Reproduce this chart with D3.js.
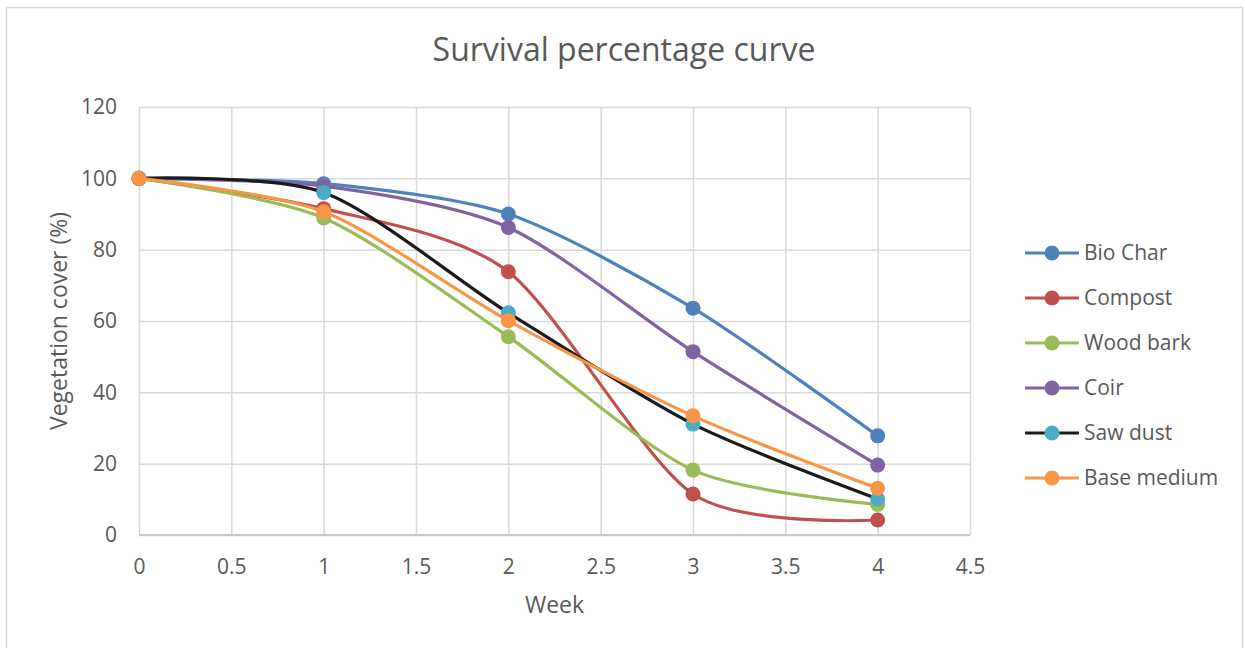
<!DOCTYPE html>
<html>
<head>
<meta charset="utf-8">
<script src="https://cdn.jsdelivr.net/npm/d3@7"></script>
<style>
  body { margin: 0; background: #fff; }
  svg { display: block; font-family: "Open Sans", sans-serif; }
</style>
</head>
<body>
<svg id="chart-svg"></svg>
<script>
// weeks and survival values
const weeks = [0, 1, 2, 3, 4];
const bioChar = [100, 98.5, 90.0, 63.6, 27.8];
const compost = [100, 91.5, 73.8, 11.5, 4.2];
const woodBark = [100, 88.9, 55.6, 18.2, 8.6];
const coir = [100, 97.8, 86.2, 51.4, 19.6];
const sawDust = [100, 96.0, 62.3, 31.1, 10.1];
const baseMedium = [100, 90.6, 60.1, 33.4, 13.1];

const seriesNames = ['Bio Char', 'Compost', 'Wood bark', 'Coir', 'Saw dust', 'Base medium'];
const seriesValues = [bioChar, compost, woodBark, coir, sawDust, baseMedium];
const lineColors = ['#4f81bd', '#c0504d', '#9bbb59', '#8064a2', '#1a1a1a', '#f79646'];
const markerColors = ['#4f81bd', '#c0504d', '#9bbb59', '#8064a2', '#4bacc6', '#f79646'];

const xTicks = [0, 0.5, 1, 1.5, 2, 2.5, 3, 3.5, 4, 4.5];
const yTicks = [0, 20, 40, 60, 80, 100, 120];

const width = 1245, height = 648;
const margin = {left: 139, right: 275, top: 107, bottom: 113};
const textColor = '#595959';
const gridColor = '#d9d9d9';

const svg = d3.select('#chart-svg')
    .attr('width', width)
    .attr('height', height);

// outer chart border
svg.append('rect')
    .attr('x', 6.5)
    .attr('y', 7.5)
    .attr('width', 1236)
    .attr('height', 660)
    .attr('fill', '#fff')
    .attr('stroke', gridColor)
    .attr('stroke-width', 1.5);

const x = d3.scaleLinear()
    .domain([0, 4.5])
    .range([margin.left, width - margin.right]);

const y = d3.scaleLinear()
    .domain([0, 120])
    .range([height - margin.bottom, margin.top]);

// gridlines
svg.append('g')
    .attr('id', 'grid-x')
    .attr('transform', 'translate(0,' + y(0) + ')')
    .call(d3.axisBottom(x).tickValues(xTicks).tickSize(-(y(0) - y(120))).tickFormat(''))
    .call(g => g.select('.domain').remove())
    .selectAll('line')
    .attr('stroke', gridColor)
    .attr('stroke-width', 1.5);

svg.append('g')
    .attr('id', 'grid-y')
    .attr('transform', 'translate(' + x(0) + ',0)')
    .call(d3.axisLeft(y).tickValues(yTicks).tickSize(-(x(4.5) - x(0))).tickFormat(''))
    .call(g => g.select('.domain').remove())
    .selectAll('line')
    .attr('stroke', gridColor)
    .attr('stroke-width', 1.5);

// axis line along the bottom
svg.append('line')
    .attr('x1', x(0))
    .attr('x2', x(4.5))
    .attr('y1', y(0))
    .attr('y2', y(0))
    .attr('stroke', '#bfbfbf')
    .attr('stroke-width', 1.5);

// tick labels
svg.append('g')
    .attr('id', 'axis-x')
    .attr('transform', 'translate(0,' + y(0) + ')')
    .call(d3.axisBottom(x).tickValues(xTicks).tickSize(0).tickPadding(24).tickFormat(d => String(d)))
    .call(g => g.select('.domain').remove())
    .selectAll('text')
    .attr('fill', textColor)
    .style('font-family', '"Open Sans", sans-serif')
    .style('font-size', '21px');

svg.append('g')
    .attr('id', 'axis-y')
    .attr('transform', 'translate(' + x(0) + ',0)')
    .call(d3.axisLeft(y).tickValues(yTicks).tickSize(0).tickPadding(22).tickFormat(d => String(d)))
    .call(g => g.select('.domain').remove())
    .selectAll('text')
    .attr('fill', textColor)
    .style('font-family', '"Open Sans", sans-serif')
    .style('font-size', '21px');

// title and axis titles
svg.append('text')
    .attr('x', 624)
    .attr('y', 61)
    .attr('text-anchor', 'middle')
    .attr('fill', textColor)
    .style('font-size', '32px')
    .text('Survival percentage curve');

svg.append('text')
    .attr('x', (x(0) + x(4.5)) / 2)
    .attr('y', 613)
    .attr('text-anchor', 'middle')
    .attr('fill', textColor)
    .style('font-size', '23px')
    .text('Week');

svg.append('text')
    .attr('transform', 'translate(67,' + (y(60)) + ') rotate(-90)')
    .attr('text-anchor', 'middle')
    .attr('fill', textColor)
    .style('font-size', '23px')
    .text('Vegetation cover (%)');

// smoothed lines, a bit tighter than plain catmull-rom to match the spreadsheet look
const line = d3.line()
    .x(d => x(d[0]))
    .y(d => y(d[1]))
    .curve(d3.curveCardinal.tension(0.2));

seriesValues.forEach((vals, i) => {
    const pts = weeks.map((w, j) => [w, vals[j]]);
    const g = svg.append('g').attr('class', 'series');
    g.append('path')
        .datum(pts)
        .attr('d', line)
        .attr('fill', 'none')
        .attr('stroke', lineColors[i])
        .attr('stroke-width', 3.2)
        .attr('stroke-linecap', 'round');
    g.selectAll('circle')
        .data(pts)
        .join('circle')
        .attr('cx', d => x(d[0]))
        .attr('cy', d => y(d[1]))
        .attr('r', 7.5)
        .attr('fill', markerColors[i]);
});

// legend
const legend = svg.append('g')
    .attr('id', 'legend')
    .attr('transform', 'translate(1025,253)');

seriesNames.forEach((name, i) => {
    const row = legend.append('g').attr('transform', 'translate(0,' + (i * 45) + ')');
    row.append('line')
        .attr('x1', 0)
        .attr('x2', 54)
        .attr('stroke', lineColors[i])
        .attr('stroke-width', 3.2);
    row.append('circle')
        .attr('cx', 27)
        .attr('r', 7.5)
        .attr('fill', markerColors[i]);
    row.append('text')
        .attr('x', 59)
        .attr('dy', '0.35em')
        .attr('fill', textColor)
        .style('font-size', '21px')
        .text(name);
});
</script>
</body>
</html>
